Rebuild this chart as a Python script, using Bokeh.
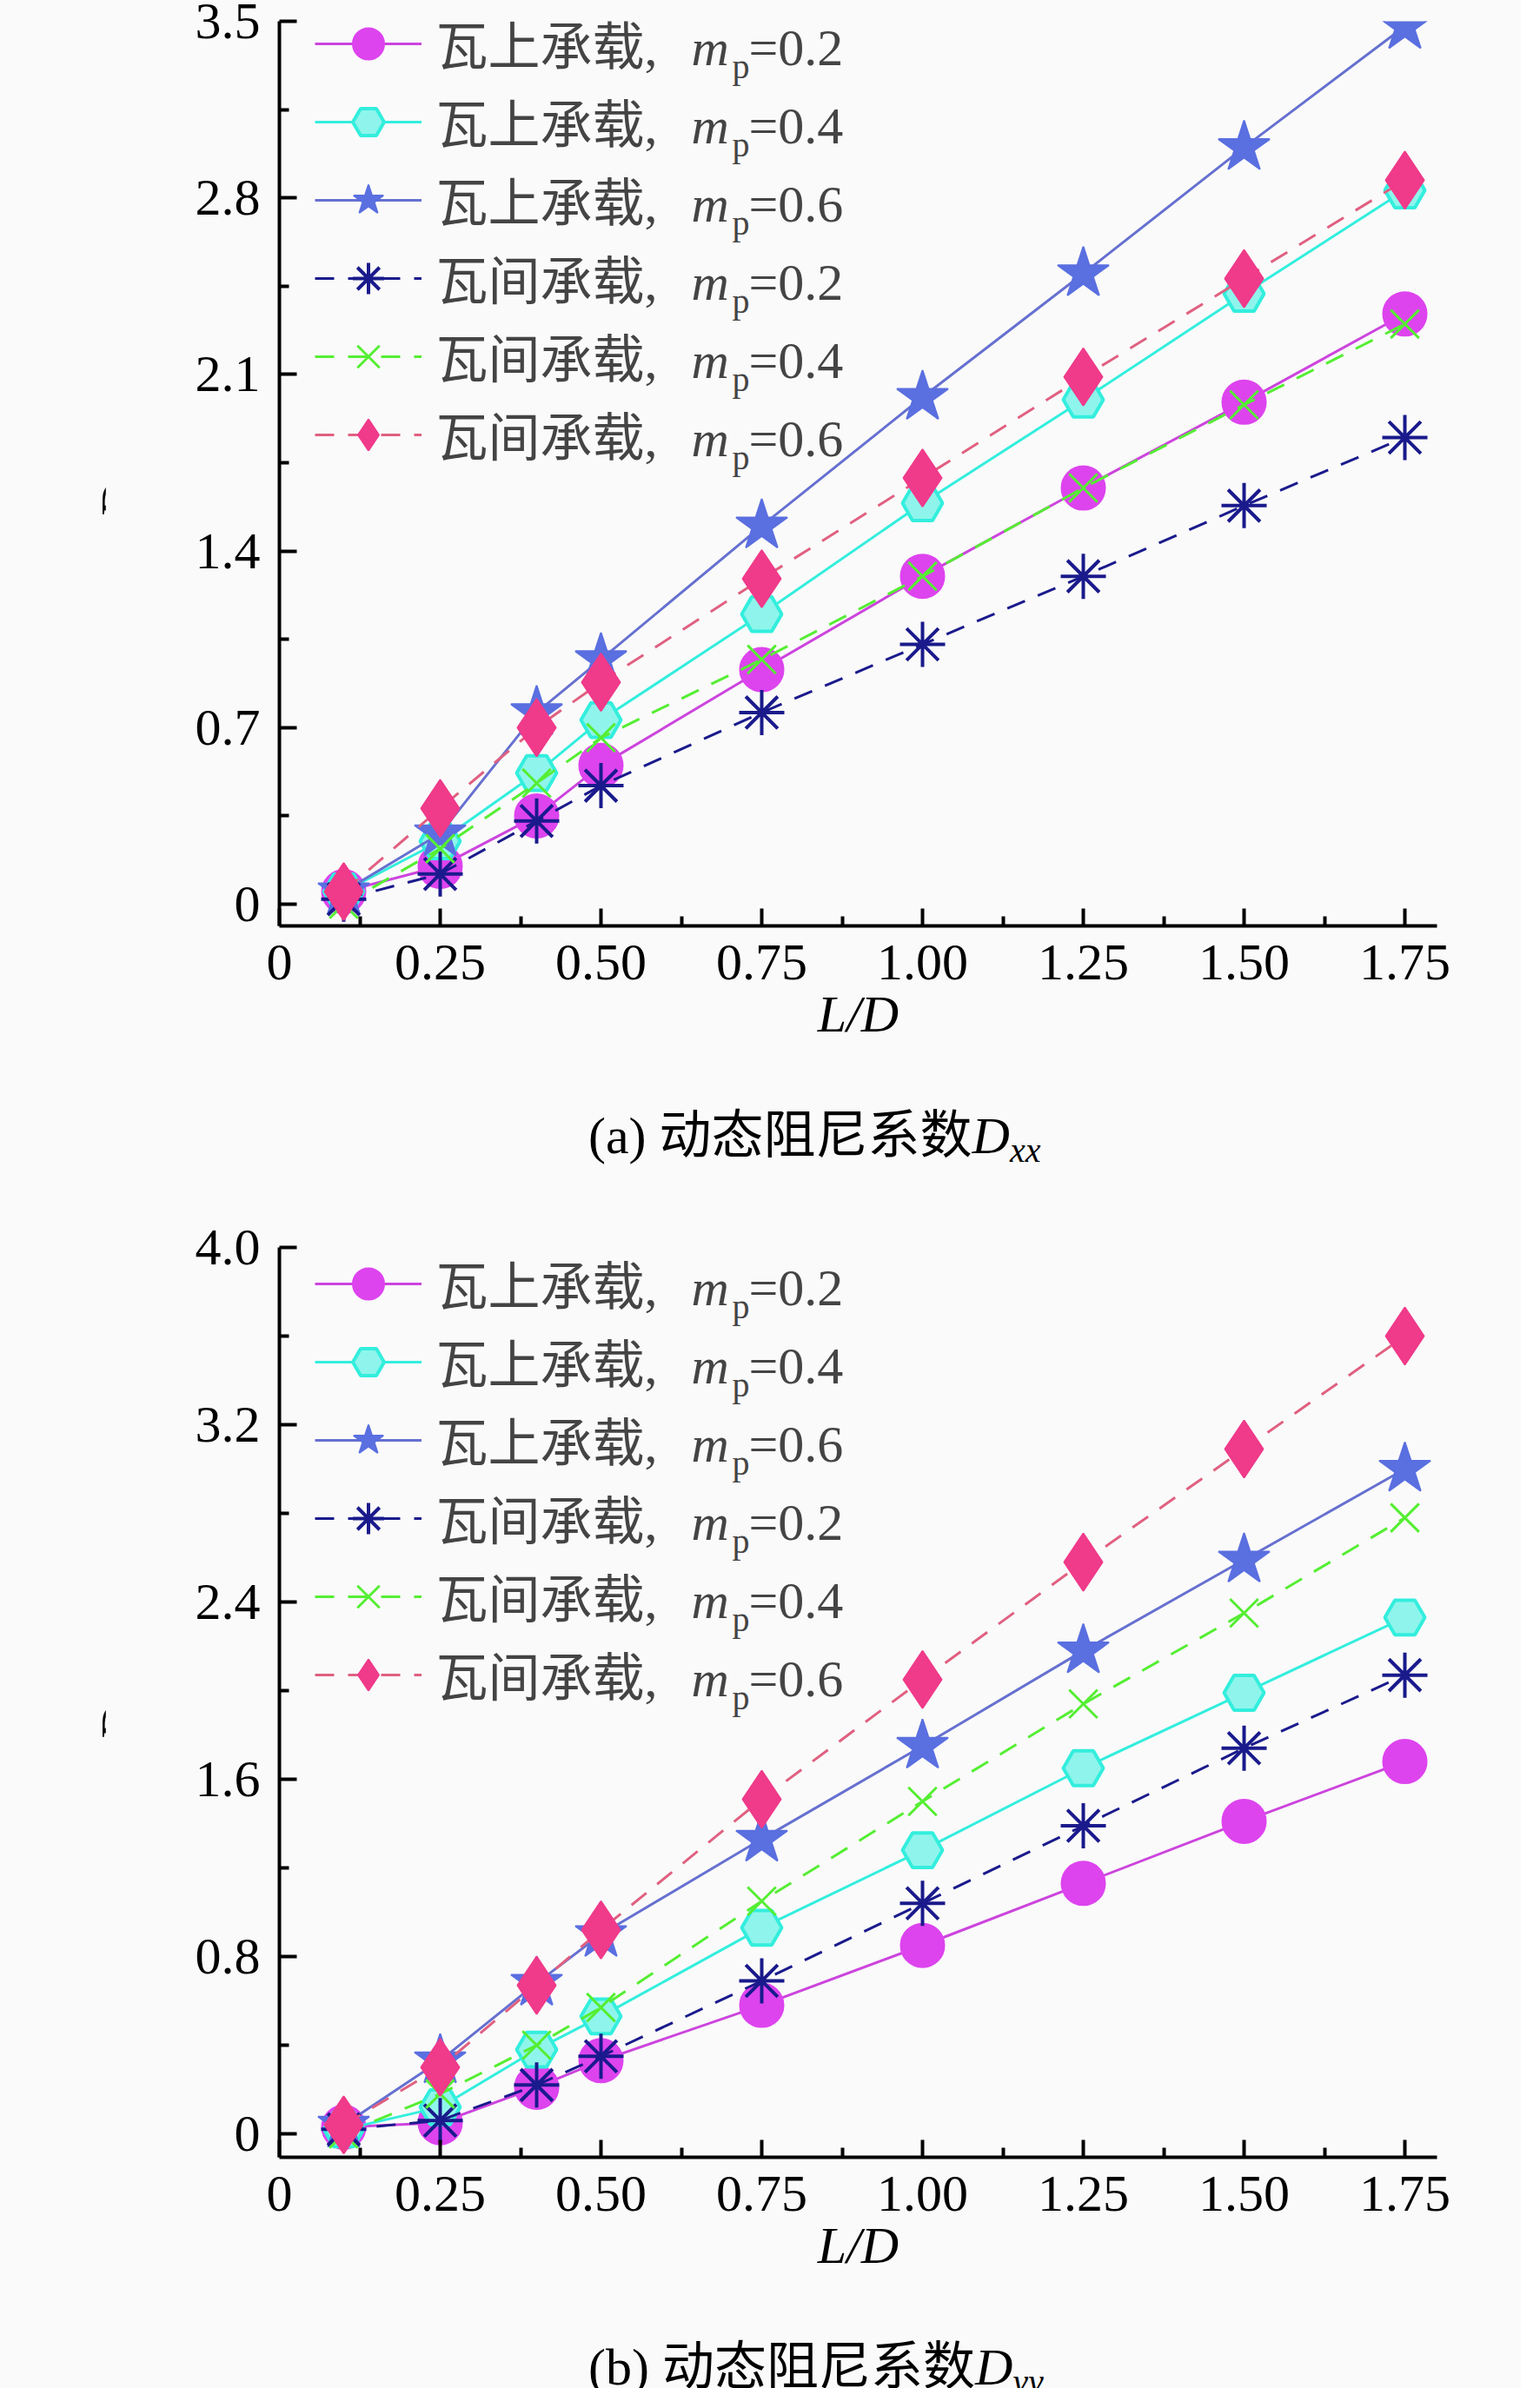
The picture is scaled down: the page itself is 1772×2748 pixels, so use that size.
from bokeh.plotting import figure
from bokeh.layouts import column, row
from bokeh.models import (FixedTicker, Label, Legend, LegendItem, Range1d, Div)
from bokeh.embed import file_html
from bokeh.resources import INLINE

LD = [0.1, 0.25, 0.4, 0.5, 0.75, 1.0, 1.25, 1.5, 1.75]

# (a) Dxx
dxx_on_02 = [0.05, 0.15, 0.35, 0.55, 0.93, 1.30, 1.65, 1.99, 2.34]
dxx_on_04 = [0.05, 0.25, 0.52, 0.73, 1.15, 1.59, 2.00, 2.42, 2.83]
dxx_on_06 = [0.05, 0.28, 0.76, 0.97, 1.50, 2.01, 2.50, 3.00, 3.48]
dxx_bt_02 = [0.02, 0.12, 0.33, 0.47, 0.76, 1.03, 1.30, 1.58, 1.85]
dxx_bt_04 = [0.00, 0.22, 0.48, 0.66, 0.97, 1.30, 1.65, 1.98, 2.30]
dxx_bt_06 = [0.05, 0.38, 0.70, 0.88, 1.29, 1.69, 2.09, 2.48, 2.87]

# (b) Dyy
dyy_on_02 = [0.03, 0.05, 0.21, 0.33, 0.58, 0.85, 1.13, 1.41, 1.68]
dyy_on_04 = [0.02, 0.12, 0.38, 0.53, 0.93, 1.28, 1.65, 1.99, 2.33]
dyy_on_06 = [0.04, 0.33, 0.68, 0.90, 1.33, 1.75, 2.18, 2.59, 3.00]
dyy_bt_02 = [0.02, 0.06, 0.22, 0.35, 0.69, 1.04, 1.39, 1.74, 2.07]
dyy_bt_04 = [0.00, 0.18, 0.40, 0.57, 1.05, 1.50, 1.94, 2.35, 2.78]
dyy_bt_06 = [0.04, 0.30, 0.67, 0.92, 1.51, 2.05, 2.58, 3.09, 3.60]

x_ticks = [0, 0.25, 0.5, 0.75, 1.0, 1.25, 1.5, 1.75]
x_tick_labels = ["0", "0.25", "0.50", "0.75", "1.00", "1.25", "1.50", "1.75"]
ya_ticks = [0, 0.7, 1.4, 2.1, 2.8, 3.5]
ya_labels = ["0", "0.7", "1.4", "2.1", "2.8", "3.5"]
yb_ticks = [0, 0.8, 1.6, 2.4, 3.2, 4.0]
yb_labels = ["0", "0.8", "1.6", "2.4", "3.2", "4.0"]

series_names = [("瓦上承载,", "0.2"), ("瓦上承载,", "0.4"), ("瓦上承载,", "0.6"),
                ("瓦间承载,", "0.2"), ("瓦间承载,", "0.4"), ("瓦间承载,", "0.6")]

STYLES = [
    dict(color="#DD44EE", marker="circle", size=50, dash="solid", lw=3, fill="#DD44EE", mlw=2),
    dict(color="#33EEDD", marker="hex", size=46, dash="solid", lw=3, fill="#8FF5EC", mlw=4),
    dict(color="#5A6FE0", marker="star", size=62, dash="solid", lw=3, fill="#5A6FE0", mlw=2),
    dict(color="#1A1A8C", marker="asterisk", size=52, dash="22 16", lw=3, fill="#1A1A8C", mlw=4),
    dict(color="#55EE33", marker="x", size=46, dash="22 16", lw=3, fill="#55EE33", mlw=3),
    dict(color="#F03A8A", marker="diamond", size=66, dash="22 16", lw=3, fill="#F03A8A", mlw=2),
]
LINE_COLORS = ["#CC44DD", "#33EEDD", "#6670D0", "#1A1A8C", "#55EE33", "#E06080"]

SERIF = "Liberation Serif"
MIXED = "'Liberation Serif', 'Noto Sans CJK SC'"
FS = "60px"
BG = "#FAFAFA"

FW, FH_A, FH_B = 1332, 1041, 1047
XR = (0, 1.8)
LEFT_DIV = 111
BOTTOM = 180


def make_panel(data, yr, yticks, ylabels, top_border, fh, row1):
    y0, y1 = yr
    p = figure(frame_width=FW, frame_height=fh,
               x_range=Range1d(*XR), y_range=Range1d(y0, y1),
               output_backend="svg", toolbar_location=None,
               min_border_left=311 - LEFT_DIV, min_border_top=top_border,
               min_border_bottom=BOTTOM, min_border_right=60,
               background_fill_color=BG, border_fill_color=BG)
    p.outline_line_color = None
    p.grid.visible = False

    def X(px):
        return XR[0] + px / FW * (XR[1] - XR[0])

    def Y(py):
        return y1 - py / fh * (y1 - y0)

    for ax, ticks, labels, minor in (
        (p.xaxis, x_ticks, x_tick_labels, [0.125 + 0.25 * i for i in range(7)]),
        (p.yaxis, yticks, ylabels, [(yticks[i] + yticks[i + 1]) / 2 for i in range(5)]),
    ):
        ax.ticker = FixedTicker(ticks=ticks, minor_ticks=minor)
        ax.major_label_overrides = {t: l for t, l in zip(ticks, labels)}
        ax.major_label_text_font = SERIF
        ax.major_label_text_font_size = FS
        ax.major_label_text_color = "black"
        ax.axis_line_width = 4
        ax.major_tick_line_width = 4
        ax.minor_tick_line_width = 4
        ax.major_tick_in = 20
        ax.major_tick_out = 0
        ax.minor_tick_in = 11
        ax.minor_tick_out = 0
    p.xaxis.major_label_standoff = 22
    p.yaxis.major_label_standoff = 22
    p.xaxis.axis_label = "L/D"
    p.xaxis.axis_label_text_font = SERIF
    p.xaxis.axis_label_text_font_style = "italic"
    p.xaxis.axis_label_text_font_size = FS
    p.xaxis.axis_label_text_color = "black"
    p.xaxis.axis_label_standoff = 4

    items = []
    for i, (ys, st) in enumerate(zip(data, STYLES)):
        lr = p.line(LD, ys, line_color=LINE_COLORS[i], line_width=st["lw"], line_dash=st["dash"])
        sr = p.scatter(LD, ys, marker=st["marker"], size=st["size"], line_color=st["color"],
                       fill_color=st["fill"], line_width=st["mlw"])
        items.append(LegendItem(label=" ", renderers=[lr, sr]))

    leg = Legend(items=items, location=(41, fh - (row1 - 45) - 540),
                 glyph_width=123, glyph_height=90, label_height=90, spacing=0,
                 padding=0, margin=0, border_line_color=None, background_fill_alpha=0,
                 label_text_font_size="10px", label_standoff=0)
    p.add_layout(leg, "center")

    for k, (txt, v) in enumerate(series_names):
        rc = row1 + 90 * k
        p.add_layout(Label(x=X(180), y=Y(rc + 4), text=txt, text_font=MIXED,
                           text_font_size=FS, text_baseline="middle"))
        p.add_layout(Label(x=X(474), y=Y(rc + 4), text="m", text_font=SERIF,
                           text_font_style="italic", text_font_size=FS, text_baseline="middle"))
        p.add_layout(Label(x=X(521), y=Y(rc + 26), text="p", text_font=SERIF,
                           text_font_size="40px", text_baseline="middle"))
        p.add_layout(Label(x=X(540), y=Y(rc + 4), text="=" + v, text_font=SERIF,
                           text_font_size=FS, text_baseline="middle"))
    return p


def ylabel_div(sub, top, height):
    html = ('<div style="position:absolute; left:97px; top:%dpx; transform:rotate(-90deg); '
            'transform-origin:left top; font-family:\'Liberation Serif\'; font-size:60px; '
            'line-height:70px; white-space:nowrap; color:black;"><i>D</i>'
            '<sub style="font-size:40px; font-style:italic; vertical-align:-8px">%s</sub></div>' % (top, sub))
    return Div(text=html, width=LEFT_DIV, height=height,
               styles={"position": "relative", "background-color": BG, "overflow": "visible"})


def caption_div(letter, sub, height):
    html = ('<div style="position:absolute; left:672px; top:12px; font-family:\'Liberation Serif\', '
            '\'Noto Sans CJK SC\'; font-size:60px; line-height:70px; white-space:nowrap; color:black;">'
            '(%s) 动态阻尼系数<i>D</i><sub style="font-size:40px; font-style:italic; vertical-align:-10px">%s</sub></div>'
            % (letter, sub))
    return Div(text=html, width=1740, height=height,
               styles={"position": "relative", "background-color": BG})


pa = make_panel([dxx_on_02, dxx_on_04, dxx_on_06, dxx_bt_02, dxx_bt_04, dxx_bt_06],
                (-0.086, 3.5), ya_ticks, ya_labels, 24, FH_A, 26)
pb = make_panel([dyy_on_02, dyy_on_04, dyy_on_06, dyy_bt_02, dyy_bt_04, dyy_bt_06],
                (-0.106, 4.0), yb_ticks, yb_labels, 32, FH_B, 42)

ha = 24 + FH_A + BOTTOM
hb = 32 + FH_B + BOTTOM
layout = column(
    row(ylabel_div("xx", 24 + FH_A // 2 + 49, ha), pa, spacing=0),
    caption_div("a", "xx", 138),
    row(ylabel_div("yy", 32 + FH_B // 2 + 42, hb), pb, spacing=0),
    caption_div("b", "yy", 100),
    spacing=0, styles={"background-color": BG})
open("out.html", "w").write(file_html(layout, INLINE))
